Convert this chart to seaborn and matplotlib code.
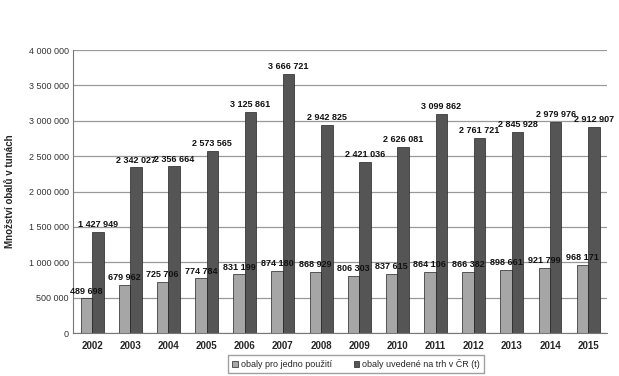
import pandas as pd
import matplotlib.pyplot as plt
import seaborn as sns

# ======= DATA =======
years = ["2002", "2003", "2004", "2005", "2006", "2007", "2008",
         "2009", "2010", "2011", "2012", "2013", "2014", "2015"]
single_use = [489698, 679962, 725706, 774784, 831199, 874180, 868929,
              806303, 837615, 864106, 866382, 898661, 921799, 968171]
on_market = [1427949, 2342027, 2356664, 2573565, 3125861, 3666721, 2942825,
             2421036, 2626081, 3099862, 2761721, 2845928, 2979976, 2912907]
series_names = ["obaly pro jedno použití", "obaly uvedené na trh v ČR (t)"]
# ====================

df = pd.DataFrame({
    "rok": years * 2,
    "hodnota": single_use + on_market,
    "serie": [series_names[0]] * len(years) + [series_names[1]] * len(years),
})

sns.set_style("white")
plt.rcParams["font.family"] = ["Liberation Sans", "DejaVu Sans"]

fig = plt.figure(figsize=(6.19, 3.76), dpi=100)
ax = fig.add_axes([0.118, 0.114, 0.863, 0.753])

sns.barplot(data=df, x="rok", y="hodnota", hue="serie",
            palette=["#a6a6a6", "#555555"], edgecolor="#222222",
            linewidth=0.5, width=0.6, gap=0, ax=ax)


def fmt(v):
    return f"{int(v):,}".replace(",", " ")


for cont in ax.containers:
    ax.bar_label(cont, labels=[fmt(b.get_height()) for b in cont],
                 fontsize=6.5, fontweight="bold", padding=2, color="#111111")

ax.set_ylim(0, 4000000)
ax.set_yticks(range(0, 4000001, 500000))
ax.set_yticklabels([fmt(v) for v in range(0, 4000001, 500000)],
                   fontsize=6.5, color="#333333")
ax.set_xlim(-0.5, len(years) - 0.5)
ax.yaxis.grid(True, color="#999999", linewidth=0.9)
ax.set_axisbelow(True)
for s in ["top", "right"]:
    ax.spines[s].set_visible(False)
ax.spines["left"].set_color("#777777")
ax.spines["bottom"].set_color("#777777")
ax.tick_params(axis="x", length=0, pad=6)
ax.tick_params(axis="y", length=0, pad=3)
for lbl in ax.get_xticklabels():
    lbl.set_fontsize(7)
    lbl.set_fontweight("bold")

ax.set_xlabel("")
ax.set_ylabel("Množství obalů v tunách", fontsize=7, fontweight="bold", labelpad=10)

ax.legend(loc="upper center", bbox_to_anchor=(0.53, -0.062), ncol=2,
          fontsize=6.5, frameon=True, edgecolor="#888888", fancybox=False,
          handlelength=0.6, handleheight=0.6, handletextpad=0.3,
          columnspacing=2.5, borderpad=0.45)

plt.savefig("out.png", dpi=100)
